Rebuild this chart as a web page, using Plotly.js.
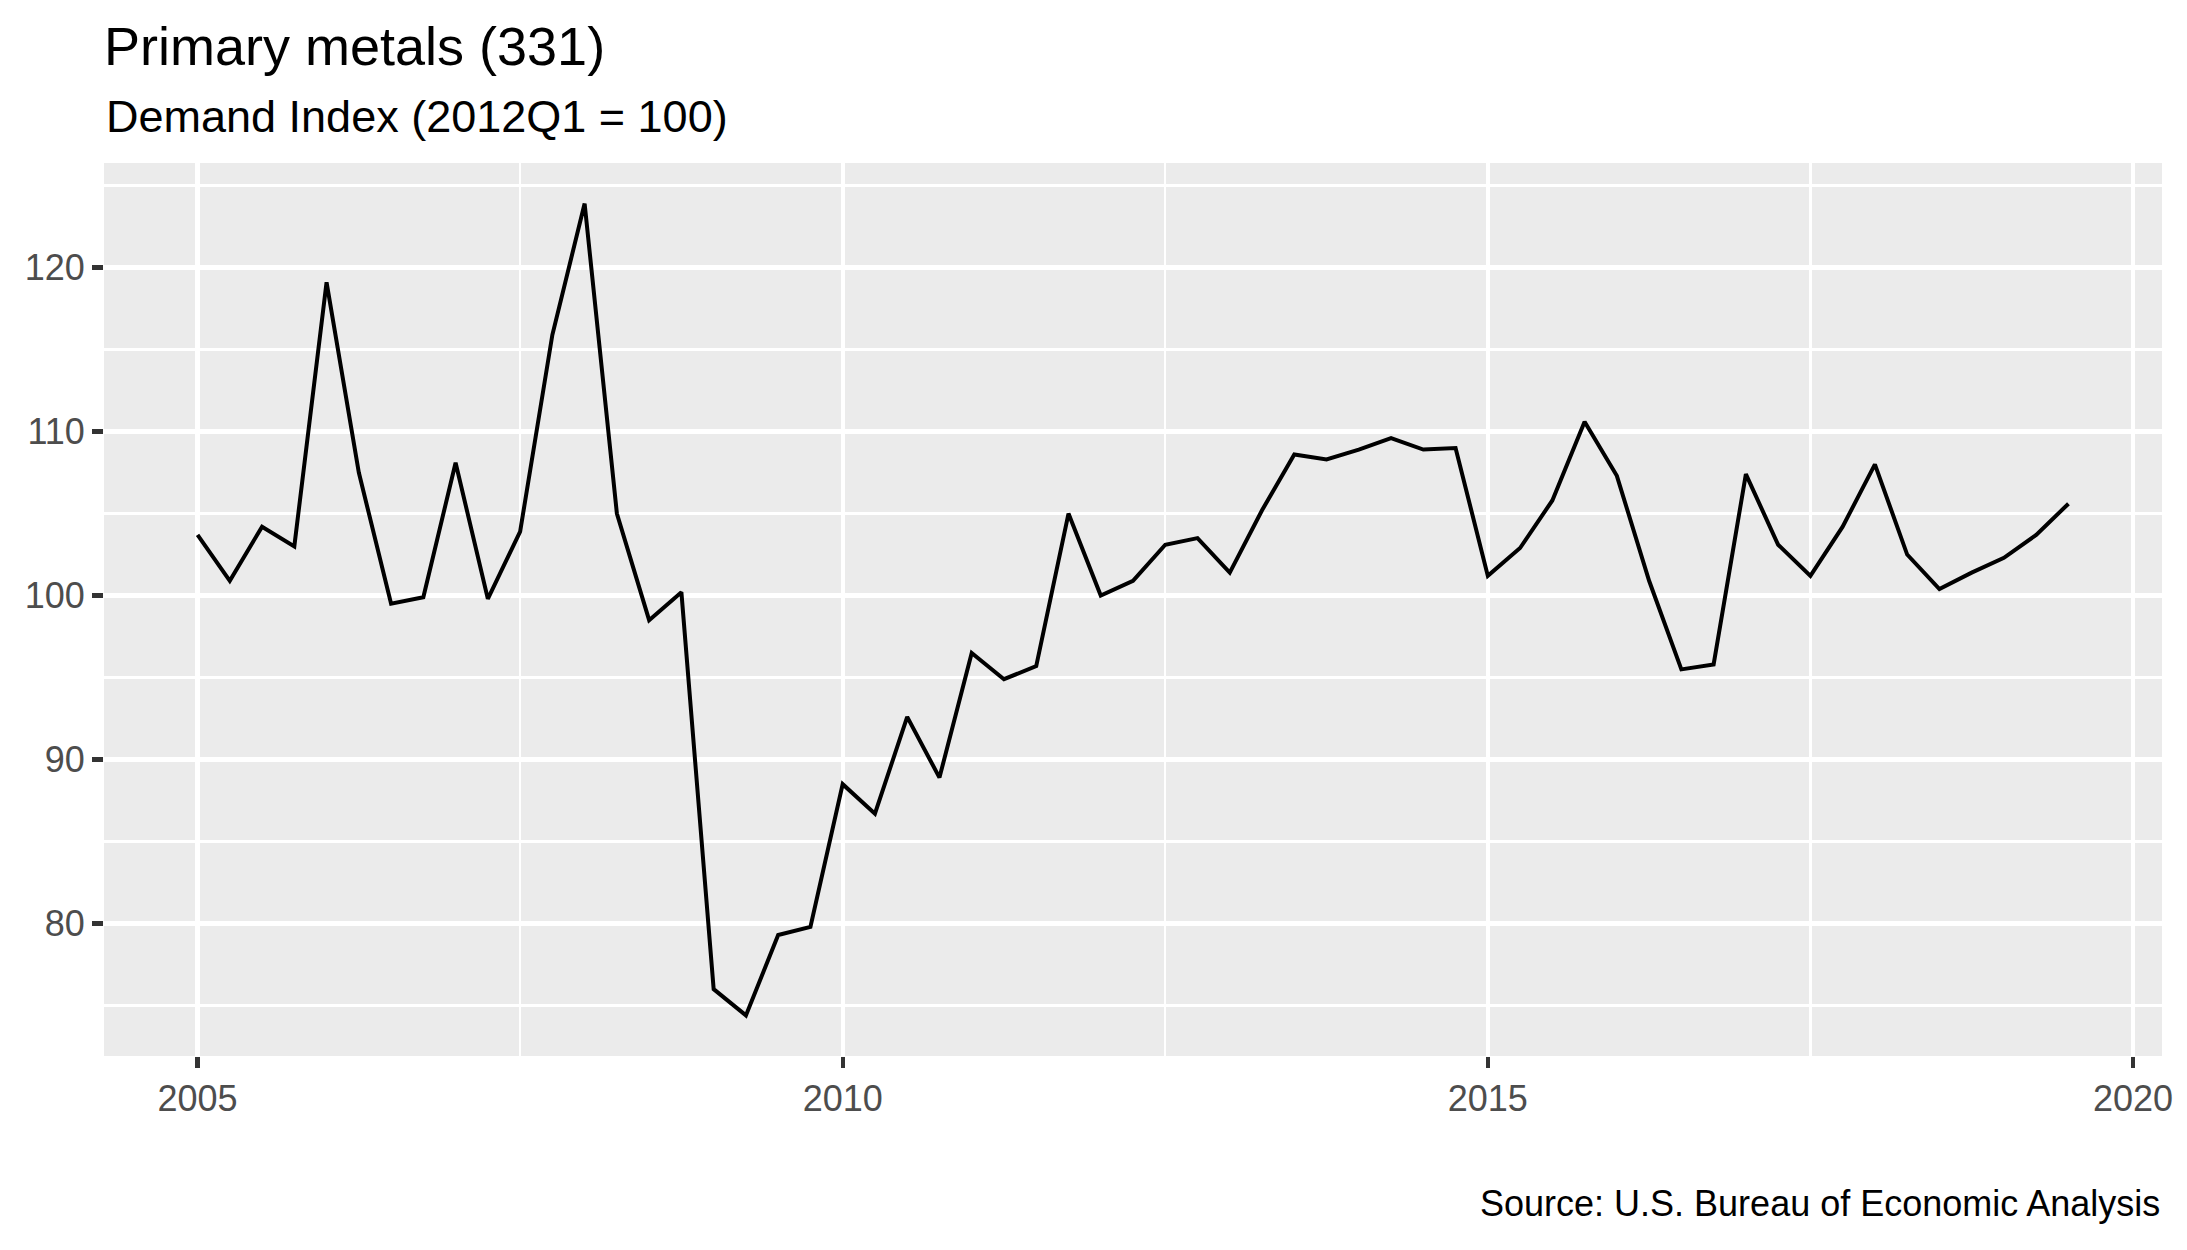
<!DOCTYPE html>
<html>
<head>
<meta charset="utf-8">
<script src="https://cdn.plot.ly/plotly-3.0.1.min.js"></script>
<style>
  html, body { margin: 0; padding: 0; background: #ffffff; }
  #chart { width: 2187px; height: 1250px; }
</style>
</head>
<body>
<div id="chart"></div>
<script>
// Quarterly observations, 2005Q1 .. 2019Q3 (x = year + (quarter-1)/4)
const startYear = 2005;
const quarterStep = 0.25;
const demandIndex = [
  103.7, 100.9, 104.2, 103.0,   // 2005
  119.1, 107.5,  99.5,  99.9,   // 2006
  108.1,  99.8, 103.9, 115.9,   // 2007
  123.9, 105.0,  98.5, 100.2,   // 2008
   76.0,  74.4,  79.3,  79.8,   // 2009
   88.5,  86.7,  92.6,  88.9,   // 2010
   96.5,  94.9,  95.7, 105.0,   // 2011
  100.0, 100.9, 103.1, 103.5,   // 2012
  101.4, 105.2, 108.6, 108.3,   // 2013
  108.9, 109.6, 108.9, 109.0,   // 2014
  101.2, 102.9, 105.8, 110.6,   // 2015
  107.3, 100.9,  95.5,  95.8,   // 2016
  107.4, 103.1, 101.2, 104.2,   // 2017
  108.0, 102.5, 100.4, 101.4,   // 2018
  102.3, 103.7, 105.6           // 2019
];
const periods = demandIndex.map((_, i) => startYear + i * quarterStep);

const xTickVals = [2005, 2010, 2015, 2020];
const xTickText = ["2005", "2010", "2015", "2020"];
const xMinorVals = [2007.5, 2012.5, 2017.5];
const yTickVals = [80, 90, 100, 110, 120];
const yTickText = ["80", "90", "100", "110", "120"];
const yMinorVals = [75, 85, 95, 105, 115, 125];

const titleText = "Primary metals (331)";
const subtitleText = "Demand Index (2012Q1 = 100)";
const captionText = "Source: U.S. Bureau of Economic Analysis";

// ggplot-style expansion (5% of data span on each side)
const xMin = Math.min(...periods), xMax = Math.max(...periods);
const yMin = Math.min(...demandIndex), yMax = Math.max(...demandIndex);
const xPad = (xMax - xMin) * 0.05, yPad = (yMax - yMin) * 0.05;

const FONT = '"Liberation Sans", Arial, Helvetica, sans-serif';

const trace = {
  type: 'scatter',
  mode: 'lines',
  x: periods,
  y: demandIndex,
  line: { color: '#000000', width: 4 },
  hoverinfo: 'x+y'
};

const layout = {
  width: 2187,
  height: 1250,
  paper_bgcolor: '#ffffff',
  plot_bgcolor: '#EBEBEB',
  margin: { l: 104, r: 25, t: 163, b: 194, pad: 0 },
  showlegend: false,
  font: { family: FONT, color: '#000000' },
  title: {
    text: titleText,
    font: { family: FONT, size: 54, color: '#000000' },
    xref: 'container', x: 104 / 2187, xanchor: 'left',
    yref: 'container', y: 1 - 46 / 1250, yanchor: 'middle'
  },
  xaxis: {
    range: [xMin - xPad, xMax + xPad],
    tickmode: 'array',
    tickvals: xTickVals,
    ticktext: xTickText,
    ticks: 'outside', ticklen: 11, tickwidth: 4.2, tickcolor: '#333333',
    tickfont: { family: FONT, size: 36, color: '#4D4D4D' },
    showgrid: true, gridcolor: '#FFFFFF', gridwidth: 4.2,
    minor: { tickmode: 'array', tickvals: xMinorVals, showgrid: true, gridcolor: '#FFFFFF', gridwidth: 2.2, ticks: '' },
    zeroline: false, showline: false, fixedrange: true
  },
  yaxis: {
    range: [yMin - yPad, yMax + yPad],
    tickmode: 'array',
    tickvals: yTickVals,
    ticktext: yTickText,
    ticks: 'outside', ticklen: 11, tickwidth: 4.2, tickcolor: '#333333',
    tickfont: { family: FONT, size: 36, color: '#4D4D4D' },
    showgrid: true, gridcolor: '#FFFFFF', gridwidth: 4.2,
    minor: { tickmode: 'array', tickvals: yMinorVals, showgrid: true, gridcolor: '#FFFFFF', gridwidth: 2.2, ticks: '' },
    zeroline: false, showline: false, fixedrange: true
  },
  annotations: [
    {
      text: subtitleText, showarrow: false,
      xref: 'paper', x: 0, xanchor: 'left',
      yref: 'paper', y: (1056 - 116.5) / 893, yanchor: 'middle',
      font: { family: FONT, size: 45, color: '#000000' }
    },
    {
      text: captionText, showarrow: false,
      xref: 'paper', x: 1, xanchor: 'right',
      yref: 'paper', y: (1056 - 1203) / 893, yanchor: 'middle',
      font: { family: FONT, size: 36, color: '#000000' }
    }
  ]
};

Plotly.newPlot('chart', [trace], layout, { displayModeBar: false, staticPlot: true });
</script>
</body>
</html>
